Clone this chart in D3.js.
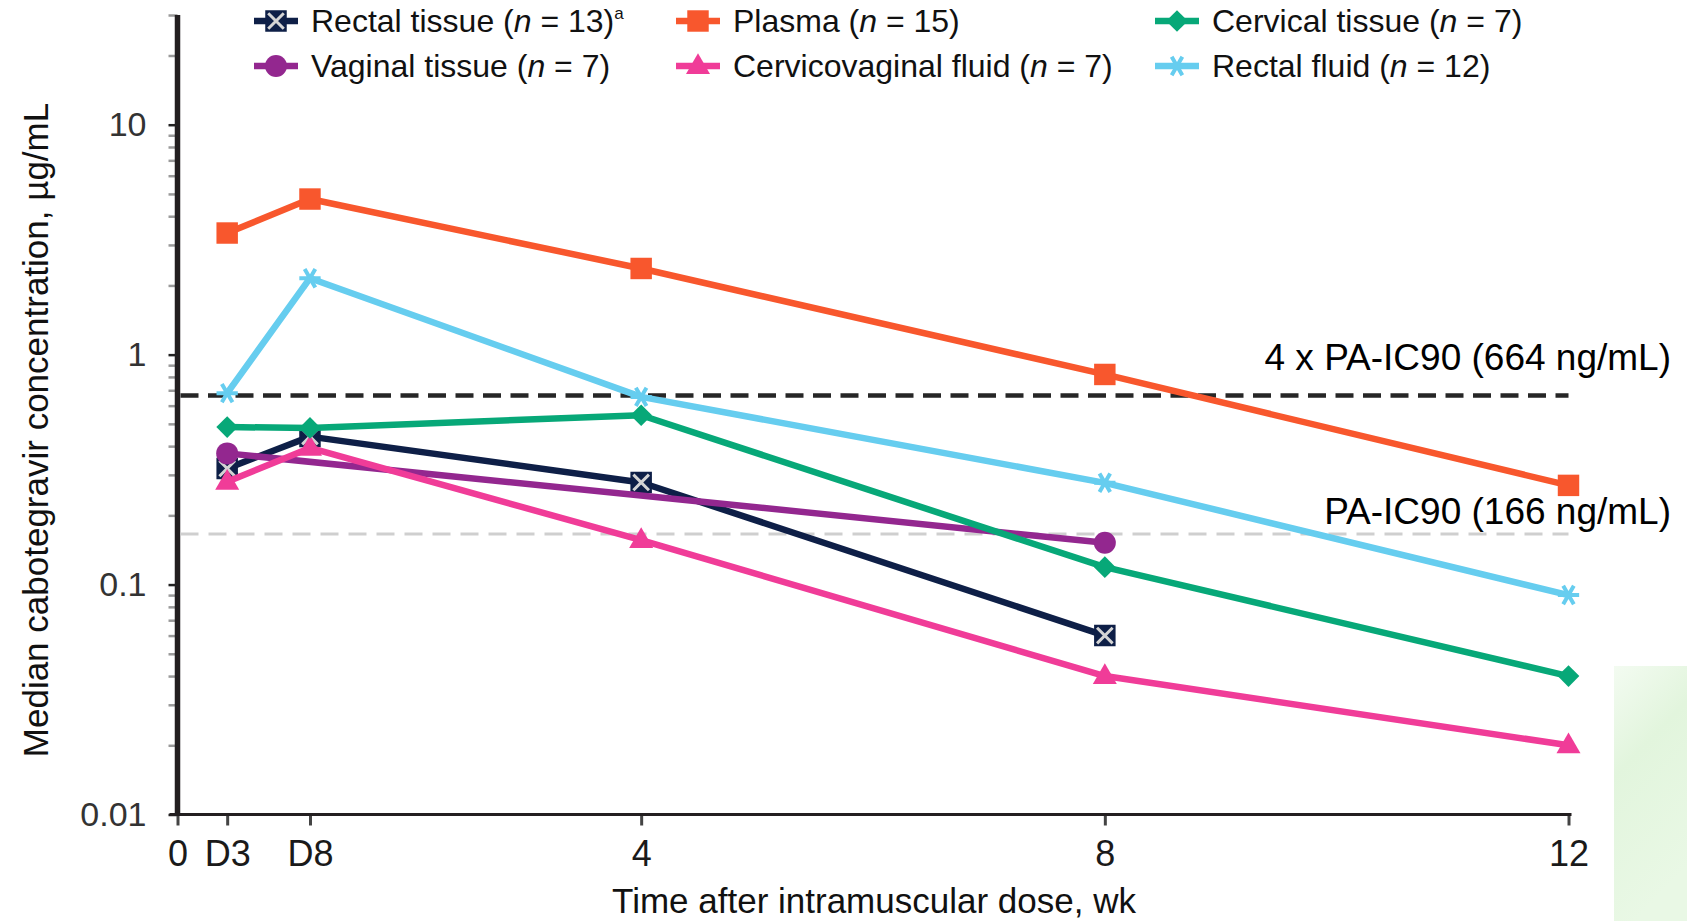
<!DOCTYPE html>
<html>
<head>
<meta charset="utf-8">
<script src="https://cdn.jsdelivr.net/npm/d3@7"></script>
<style>
  body { margin: 0; background: #fff; }
  text { font-family: "Liberation Sans", Arial, sans-serif; }
</style>
</head>
<body>
<div id="plot"></div>
<script>
// time axis in weeks (D3 / D8 = day 3 / day 8)
const xTickValues = [0, 3/7, 8/7, 4, 8, 12];
const xTickLabels = ["0", "D3", "D8", "4", "8", "12"];
const yTickValues = [0.01, 0.1, 1, 10];
const yTickLabels = ["0.01", "0.1", "1", "10"];
const yMinorTicks = [0.02, 0.03, 0.04, 0.05, 0.06, 0.07, 0.08, 0.09,
  0.2, 0.3, 0.4, 0.5, 0.6, 0.7, 0.8, 0.9,
  2, 3, 4, 5, 6, 7, 8, 9, 20, 30];

// median concentrations, ug/mL
const weeks5 = [3/7, 8/7, 4, 8, 12];
const plasma = [3.38, 4.75, 2.37, 0.82, 0.27];
const rectalFluid = [0.68, 2.15, 0.655, 0.277, 0.09];
const cervicalTissue = [0.484, 0.48, 0.545, 0.119, 0.04];
const cervicovaginalFluid = [0.28, 0.393, 0.156, 0.04, 0.02];
const rectalTissueWeeks = [3/7, 8/7, 4, 8];
const rectalTissue = [0.32, 0.44, 0.278, 0.06];
const vaginalTissueWeeks = [3/7, 8];
const vaginalTissue = [0.372, 0.152];

const refValues = [0.664, 0.166];
const refLabels = ["4 x PA-IC90 (664 ng/mL)", "PA-IC90 (166 ng/mL)"];

// drawing order: bottom to top
const series = [
  { name: "Rectal tissue", n: 13, sup: "a", color: "#0e1f47", marker: "boxx", wk: rectalTissueWeeks, v: rectalTissue },
  { name: "Vaginal tissue", n: 7, color: "#93278f", marker: "circle", wk: vaginalTissueWeeks, v: vaginalTissue },
  { name: "Cervicovaginal fluid", n: 7, color: "#f03c98", marker: "triangle", wk: weeks5, v: cervicovaginalFluid },
  { name: "Cervical tissue", n: 7, color: "#07a878", marker: "diamond", wk: weeks5, v: cervicalTissue },
  { name: "Rectal fluid", n: 12, color: "#66cdef", marker: "star", wk: weeks5, v: rectalFluid },
  { name: "Plasma", n: 15, color: "#f8572d", marker: "square", wk: weeks5, v: plasma }
];
// legend layout: [column, row]
const legendSlots = { "Rectal tissue": [0, 0], "Plasma": [1, 0], "Cervical tissue": [2, 0],
  "Vaginal tissue": [0, 1], "Cervicovaginal fluid": [1, 1], "Rectal fluid": [2, 1] };

const W = 1687, H = 921;
const x = d3.scaleLinear().domain([0, 12]).range([177.5, 1568.5]);
const y = d3.scaleLog().domain([0.01, 30]).range([814.5, 15]);

const svg = d3.select("#plot").append("svg")
    .attr("width", W).attr("height", H);

// pale green patch at bottom right
const grad = svg.append("defs").append("linearGradient")
    .attr("id", "pale").attr("x1", 0).attr("y1", 0).attr("x2", 0.3).attr("y2", 1);
grad.append("stop").attr("offset", "0%").attr("stop-color", "#f3fbf1");
grad.append("stop").attr("offset", "40%").attr("stop-color", "#e2f5dd");
grad.append("stop").attr("offset", "100%").attr("stop-color", "#e9f8e5");
svg.append("rect").attr("x", 1614).attr("y", 666).attr("width", W - 1614).attr("height", H - 666)
    .attr("fill", "url(#pale)");

// y axis: minor ticks, then major
const yMinor = svg.append("g").attr("transform", `translate(${x(0)},0)`)
  .call(d3.axisLeft(y).tickValues(yMinorTicks).tickSize(9).tickFormat(""));
yMinor.select(".domain").remove();
yMinor.selectAll(".tick line").attr("stroke", "#9a9a9a").attr("stroke-width", 2.5);

const yAxis = svg.append("g").attr("transform", `translate(${x(0)},0)`)
  .call(d3.axisLeft(y).tickValues(yTickValues).tickSize(9).tickPadding(22)
    .tickFormat((d, i) => yTickLabels[i]));
yAxis.select(".domain").remove();
yAxis.selectAll(".tick line").attr("stroke", "#222").attr("stroke-width", 2.5);
yAxis.selectAll(".tick text").attr("font-size", 34).attr("fill", "#333")
    .attr("font-family", "Liberation Sans, Arial, sans-serif");

// x axis
const xAxis = svg.append("g").attr("transform", `translate(0,${y(0.01)})`)
  .call(d3.axisBottom(x).tickValues(xTickValues).tickSize(11)
    .tickFormat((d, i) => xTickLabels[i]));
xAxis.select(".domain").remove();
xAxis.selectAll(".tick line").attr("stroke", "#444").attr("stroke-width", 3);
xAxis.selectAll(".tick text").attr("font-size", 36).attr("fill", "#1a1a1a")
    .attr("y", 51).attr("dy", 0)
    .attr("font-family", "Liberation Sans, Arial, sans-serif");

// axis lines
svg.append("line")
    .attr("x1", x(0) - 8).attr("x2", x(12) + 3)
    .attr("y1", y(0.01)).attr("y2", y(0.01))
    .attr("stroke", "#231f20").attr("stroke-width", 3);
svg.append("line")
    .attr("x1", x(0)).attr("x2", x(0))
    .attr("y1", y(30)).attr("y2", y(0.01) + 1)
    .attr("stroke", "#231f20").attr("stroke-width", 5.5);

// reference lines
svg.append("line")
    .attr("x1", x(0) + 3).attr("x2", x(12))
    .attr("y1", y(refValues[0])).attr("y2", y(refValues[0]))
    .attr("stroke", "#262626").attr("stroke-width", 4.5).attr("stroke-dasharray", "18 9.5");
svg.append("line")
    .attr("x1", x(0) + 3).attr("x2", x(12))
    .attr("y1", y(refValues[1])).attr("y2", y(refValues[1]))
    .attr("stroke", "#cfcfcf").attr("stroke-width", 3).attr("stroke-dasharray", "18 10");

svg.selectAll(".reflabel").data(refLabels).join("text")
    .attr("x", 1671)
    .attr("y", (d, i) => y(refValues[i]) - (i === 0 ? 26 : 10))
    .attr("text-anchor", "end")
    .attr("font-size", 37)
    .attr("fill", "#000")
    .text(d => d);

// markers
function marker(sel, kind, color) {
  if (kind === "square") {
    sel.append("path").attr("d", d3.symbol(d3.symbolSquare, 460)).attr("fill", color);
  } else if (kind === "circle") {
    sel.append("path").attr("d", d3.symbol(d3.symbolCircle, 380)).attr("fill", color);
  } else if (kind === "diamond") {
    sel.append("path").attr("d", d3.symbol(d3.symbolSquare, 235)).attr("fill", color)
        .attr("transform", "rotate(45)");
  } else if (kind === "triangle") {
    sel.append("path").attr("d", d3.symbol(d3.symbolTriangle, 250)).attr("fill", color)
        .attr("transform", "translate(0,1)");
  } else if (kind === "star") {
    sel.append("path").attr("d", d3.symbol(d3.symbolAsterisk, 320)).attr("fill", "none")
        .attr("stroke", color).attr("stroke-width", 4).attr("transform", "rotate(90)");
  } else if (kind === "boxx") {
    sel.append("path").attr("d", d3.symbol(d3.symbolSquare, 380)).attr("fill", color)
        .attr("stroke", color).attr("stroke-width", 2);
    sel.append("path").attr("d", d3.symbol(d3.symbolTimes, 160)).attr("fill", "none")
        .attr("stroke", "#d4d4d4").attr("stroke-width", 3);
  }
}

const line = d3.line().x(d => x(d[0])).y(d => y(d[1]));

series.forEach(s => {
  const pts = s.wk.map((w, i) => [w, s.v[i]]);
  const g = svg.append("g");
  g.append("path").datum(pts)
      .attr("fill", "none").attr("stroke", s.color).attr("stroke-width", 6.5)
      .attr("stroke-linejoin", "round")
      .attr("d", line);
  g.selectAll(".pt").data(pts).join("g")
      .attr("transform", d => `translate(${x(d[0])},${y(d[1])})`)
      .each(function() { marker(d3.select(this), s.marker, s.color); });
});

// legend
const colX = [276, 698, 1177];
const rowY = [21, 66];
series.forEach(s => {
  const [c, r] = legendSlots[s.name];
  const g = svg.append("g").attr("transform", `translate(${colX[c]},${rowY[r]})`);
  g.append("line").attr("x1", -22).attr("x2", 22)
      .attr("stroke", s.color).attr("stroke-width", 6.5);
  marker(g, s.marker, s.color);
  const t = g.append("text").attr("x", 35).attr("y", 10.5)
      .attr("font-size", 32).attr("fill", "#111");
  t.append("tspan").text(s.name + " (");
  t.append("tspan").attr("font-style", "italic").text("n");
  t.append("tspan").text(" = " + s.n + ")");
  if (s.sup) {
    t.append("tspan").attr("font-size", 17).attr("dy", -13).text(s.sup);
  }
});

// axis titles
svg.append("text")
    .attr("x", 874).attr("y", 913)
    .attr("text-anchor", "middle")
    .attr("font-size", 35).attr("fill", "#111")
    .text("Time after intramuscular dose, wk");
svg.append("text")
    .attr("transform", "translate(48,430) rotate(-90)")
    .attr("text-anchor", "middle")
    .attr("font-size", 35).attr("fill", "#111")
    .text("Median cabotegravir concentration, µg/mL");
</script>
</body>
</html>
